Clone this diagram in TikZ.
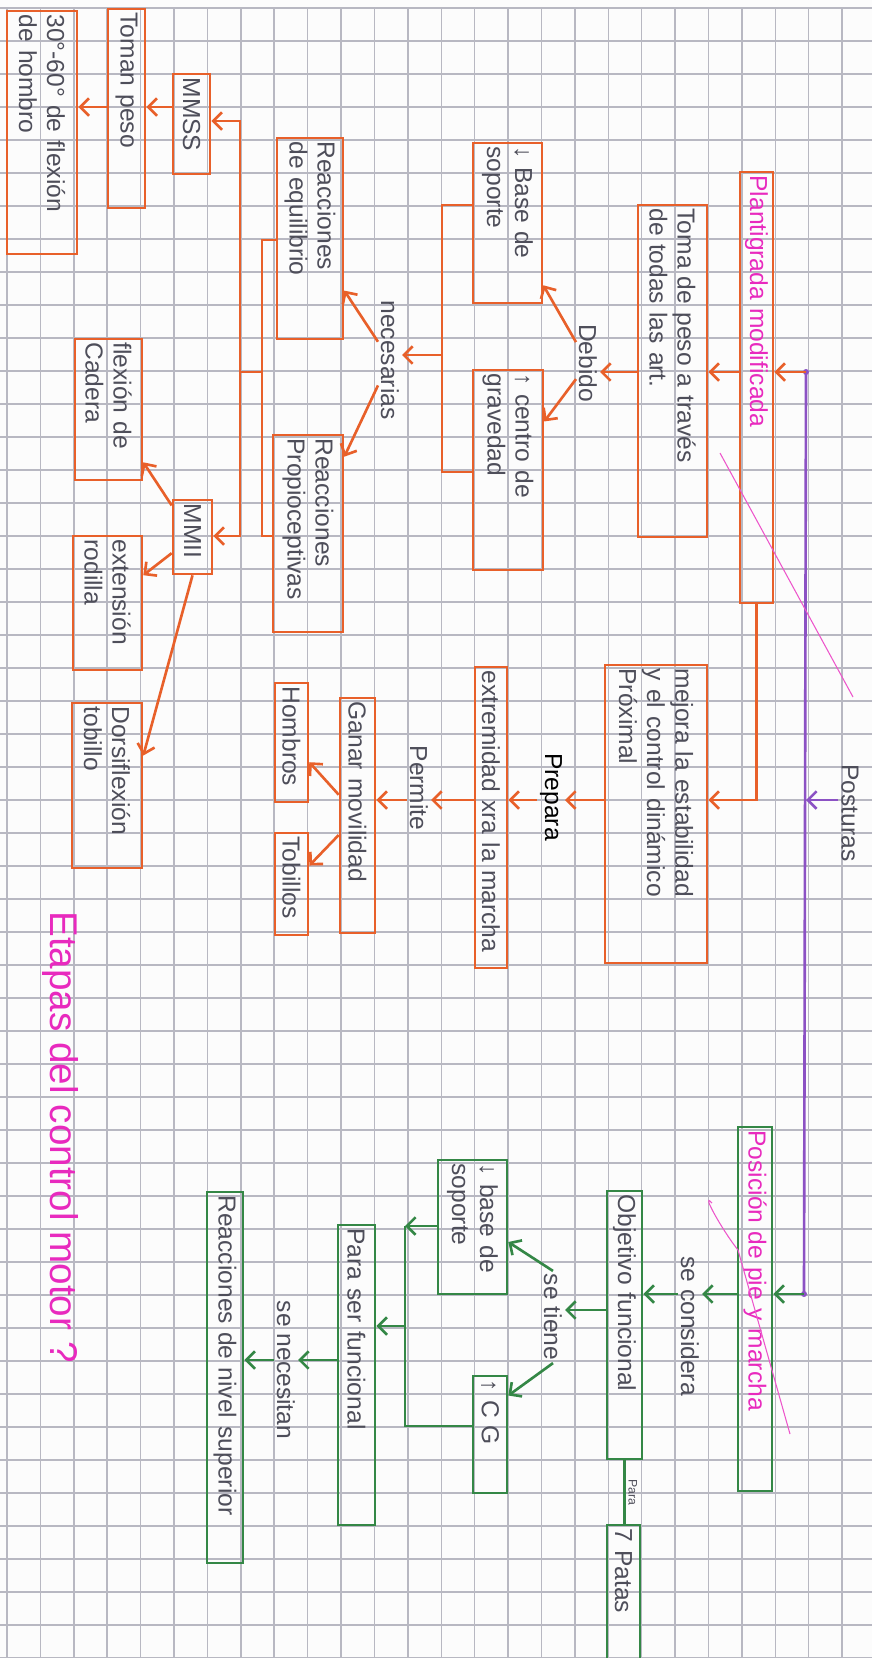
\documentclass[tikz,border=0pt]{standalone}
\usepackage{fontspec}
\setmainfont{Liberation Sans}
\usetikzlibrary{arrows.meta, positioning}
\definecolor{paper}{RGB}{252,252,252}
\definecolor{gridgray}{RGB}{184,184,194}
\definecolor{orng}{RGB}{232,96,42}
\definecolor{grn}{RGB}{52,135,70}
\definecolor{purp}{RGB}{140,82,196}
\definecolor{mgnta}{RGB}{232,42,190}
\definecolor{pencil}{RGB}{78,78,90}

\begin{document}
\begin{tikzpicture}[x=0.02cm, y=-0.02cm,
  obox/.style={rectangle, draw=orng, line width=1.5pt, rotate=-90, inner sep=2pt,
               align=left, text=pencil, font=\fontsize{14}{16}\selectfont},
  gbox/.style={obox, draw=grn},
  tag/.style={rotate=-90, inner sep=1.5pt, text=pencil, font=\fontsize{14}{16}\selectfont},
  oarrow/.style={-{Straight Barb[length=5pt, width=10pt]}, line width=1.5pt, orng},
  oline/.style={line width=1.5pt, orng},
  garrow/.style={oarrow, grn},
  gline/.style={oline, grn},
  parrow/.style={oarrow, purp},
  strike/.style={mgnta!80, line width=0.6pt}
]
\useasboundingbox (0,0) rectangle (872,1658);
\clip (0,0) rectangle (872,1658);
\fill[paper] (0,0) rectangle (872,1658);
% graph paper
\foreach \k in {0,...,26}
  \draw[gridgray, line width=0.8pt] ({7+33.4*\k},8) -- ({7+33.4*\k},1658);
\foreach \k in {0,...,50}
  \draw[gridgray, line width=0.8pt] (0,{8+33*\k}) -- (872,{8+33*\k});

% orange branch
\node[obox, text=mgnta, text width=8.48cm, minimum height=0.66cm] (plant) at (756.5,387.5) {Plantigrada modificada};
\node[obox, text width=6.50cm, minimum height=1.38cm] (toma) at (672.5,371) {Toma de peso a través\\de todas las art.};
\node[tag] (debido) at (588,363) {Debido};
\node[obox, text width=3.06cm, minimum height=1.38cm] (base1) at (507.5,223) {↓ Base de\\soporte};
\node[obox, text width=3.86cm, minimum height=1.40cm] (cg1) at (508,470) {↑ centro de\\gravedad};
\node[tag] (necesarias) at (390,360) {necesarias};
\node[obox, text width=3.88cm, minimum height=1.32cm] (requi) at (310,238.5) {Reacciones\\de equilibrio};
\node[obox, text width=3.80cm, minimum height=1.40cm] (rprop) at (308,533.5) {Reacciones\\Propioceptivas};
\node[obox, text width=1.86cm, minimum height=0.74cm] (mmss) at (191.5,124) {MMSS};
\node[obox, text width=3.84cm, minimum height=0.74cm] (toman) at (126.5,108.5) {Toman peso};
\node[obox, text width=4.72cm, minimum height=1.40cm] (hombro) at (42,132.5) {30°-60° de flexión\\de hombro};
\node[obox, text width=1.34cm, minimum height=0.78cm] (mmii) at (192.5,537) {MMII};
\node[obox, text width=2.68cm, minimum height=1.34cm] (cadera) at (108.5,409.5) {flexión de\\Cadera};
\node[obox, text width=2.54cm, minimum height=1.38cm] (rodilla) at (107.5,603) {extensión\\rodilla};
\node[obox, text width=3.16cm, minimum height=1.40cm] (tobillo) at (107,785.5) {Dorsiflexión\\tobillo};
\node[obox, text width=5.82cm, minimum height=2.04cm] (mejora) at (656,814) {mejora la estabilidad\\y el control dinámico\\Próximal};
\node[tag, text=black] (prepara) at (551,797) {Prepara};
\node[obox, text width=5.88cm, minimum height=0.64cm] (extrem) at (491,817.5) {extremidad xra la marcha};
\node[tag] (permite) at (419,788) {Permite};
\node[obox, text width=4.56cm, minimum height=0.70cm] (ganar) at (357.5,815.5) {Ganar movilidad};
\node[obox, text width=2.24cm, minimum height=0.66cm] (hombros) at (291.5,742.5) {Hombros};
\node[obox, text width=1.90cm, minimum height=0.66cm] (tobillos) at (291.5,884) {Tobillos};

% purple trunk
\node[tag] (posturas) at (850,813) {Posturas};
\coordinate (dot1) at (806,372);
\coordinate (dot2) at (804,1294);
\coordinate (r1) at (0,107);
\coordinate (r2) at (0,800);
\draw[purp, line width=1.5pt] (dot1) -- (dot2);
\fill[purp] (dot1) circle (3) (dot2) circle (3);
\draw[parrow] (posturas.south |- r2) -- (dot1 |- r2);

\draw[oarrow] (dot1) -- (dot1 -| plant.north);
\draw[oarrow] (dot1 -| plant.south) -- (dot1 -| toma.north);
\draw[oarrow] (dot1 -| toma.south) -- (dot1 -| debido.north);
\draw[oarrow] (debido) -- (base1);
\draw[oarrow] (debido) -- (cg1);

\coordinate (b1) at (442,205);
\coordinate (b2) at (442,472);
\coordinate (j1) at (442,355);
\draw[oline] (b1 -| base1.south) -- (b1) -- (b2) -- (b2 -| cg1.south);
\draw[oarrow] (j1) -- (j1 -| necesarias.north);
\draw[oarrow] (necesarias) -- (requi);
\draw[oarrow] (necesarias) -- (rprop);

\coordinate (b3) at (262,240);
\coordinate (b4) at (262,536);
\coordinate (j2) at (262,372);
\coordinate (b5) at (240,121);
\coordinate (b6) at (240,536);
\draw[oline] (b3 -| requi.south) -- (b3) -- (b4) -- (b4 -| rprop.south);
\draw[oline] (j2) -- (j2 -| b5);
\draw[oarrow] (b5 |- j2) -- (b5) -- (b5 -| mmss.north);
\draw[oarrow] (b5 |- j2) -- (b6) -- (b6 -| mmii.north);
\draw[oarrow] (mmss.south |- r1) -- (toman.north |- r1);
\draw[oarrow] (toman.south |- r1) -- (hombro.north |- r1);
\draw[oarrow] (mmii) -- (cadera);
\draw[oarrow] (mmii) -- (rodilla);
\draw[oarrow] (mmii.east) -- ([yshift=0.6cm]tobillo.north);

\draw[oarrow] (plant.east) |- (mejora.north |- r2);
\draw[oarrow] (mejora.south |- r2) -- (prepara.north |- r2);
\draw[oarrow] (prepara.south |- r2) -- (extrem.north |- r2);
\draw[oarrow] (extrem.south |- r2) -- (permite.north |- r2);
\draw[oarrow] (permite.south |- r2) -- (ganar.north |- r2);
\draw[oarrow] (ganar) -- (hombros);
\draw[oarrow] (ganar) -- (tobillos);

% green branch
\node[gbox, text=mgnta, text width=7.14cm, minimum height=0.68cm] (posicion) at (755,1309) {Posición de pie y marcha};
\node[tag] (considera) at (690,1326) {se considera};
\node[gbox, text width=5.22cm, minimum height=0.70cm] (objetivo) at (624.5,1325) {Objetivo funcional};
\node[gbox, text width=3.16cm, minimum height=0.66cm] (patas) at (623.5,1607.5) {7 Patas};
\node[tag] (setiene) at (553,1317) {se tiene};
\node[gbox, text width=2.54cm, minimum height=1.38cm] (base2) at (472.5,1227) {↓ base de\\soporte};
\node[gbox, text width=2.20cm, minimum height=0.68cm] (cg2) at (490,1434.5) {↑ C G};
\node[gbox, text width=5.86cm, minimum height=0.74cm] (parafun) at (356.5,1375) {Para ser funcional};
\node[tag] (necesitan) at (286,1370) {se necesitan};
\node[gbox, text width=7.28cm, minimum height=0.72cm] (nivel) at (225,1377.5) {Reacciones de nivel superior};

\coordinate (r3) at (0,1310);
\coordinate (r4) at (0,1360);
\draw[garrow] (dot2) -- (dot2 -| posicion.north);
\draw[garrow] (dot2 -| posicion.south) -- (dot2 -| considera.north);
\draw[garrow] (dot2 -| considera.south) -- (dot2 -| objetivo.north);
\draw[garrow] (objetivo.south |- r3) -- (setiene.north |- r3);
\draw[garrow] (setiene.west) -- ([yshift=-0.3cm]base2.north);
\draw[garrow] (setiene.east) -- ([yshift=0.78cm]cg2.north);
\draw[gline] (objetivo.east) -- (objetivo.east |- patas.west)
  node[midway, tag, anchor=south, font=\fontsize{7}{8}\selectfont] (para) {Para};

\coordinate (g1) at (405,1226);
\coordinate (g2) at (405,1426);
\coordinate (g3) at (405,1326);
\draw[garrow] (g1 -| base2.south) -- (g1);
\draw[gline] (g1) -- (g2) -- (g2 -| cg2.south);
\draw[garrow] (g3) -- (g3 -| parafun.north);
\draw[garrow] (parafun.south |- r4) -- (necesitan.north |- r4);
\draw[garrow] (necesitan.south |- r4) -- (nivel.north |- r4);

% strike-throughs and title
\draw[strike] (720,453) -- (853,697);
\draw[strike] (712,1203) .. controls (700,1190) and (722,1230) .. (738,1250) -- (790,1434);
\node[tag, text=mgnta, font=\fontsize{22}{26}\selectfont] (titulo) at (60,1137) {Etapas del control motor ?};
\end{tikzpicture}
\end{document}
